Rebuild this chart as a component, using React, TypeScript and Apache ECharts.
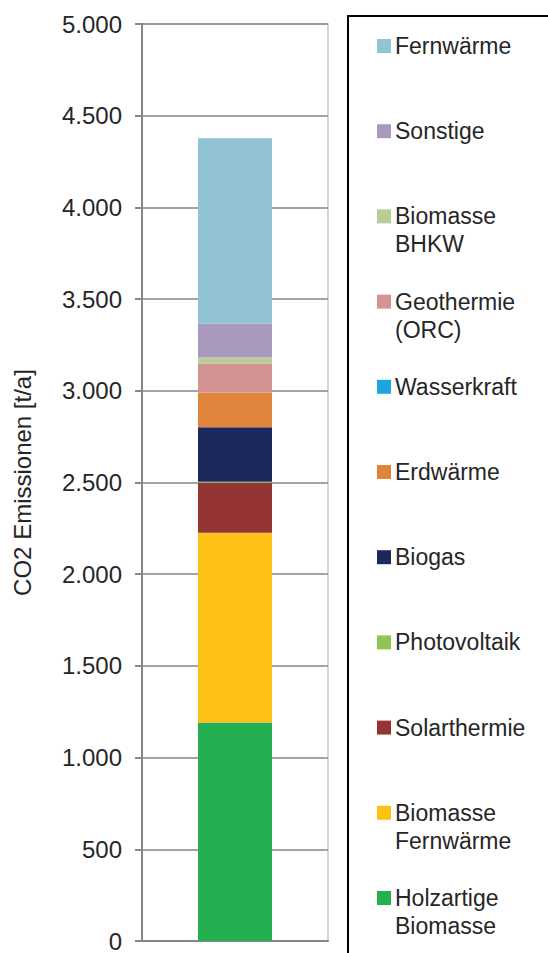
import React, { useEffect, useRef } from "react";
import * as echarts from "echarts";

const categories = ["CO2"];
const seriesNames = [
  "Holzartige Biomasse",
  "Biomasse Fernwärme",
  "Solarthermie",
  "Photovoltaik",
  "Biogas",
  "Erdwärme",
  "Wasserkraft",
  "Geothermie (ORC)",
  "Biomasse BHKW",
  "Sonstige",
  "Fernwärme",
];
const legendLabels = [
  "Holzartige\nBiomasse",
  "Biomasse\nFernwärme",
  "Solarthermie",
  "Photovoltaik",
  "Biogas",
  "Erdwärme",
  "Wasserkraft",
  "Geothermie\n(ORC)",
  "Biomasse\nBHKW",
  "Sonstige",
  "Fernwärme",
];
const values = [1192, 1034, 272, 6, 297, 190, 0, 158, 32, 185, 1011];
const colors = [
  "#24B051",
  "#FCC016",
  "#953533",
  "#8DC653",
  "#1C285C",
  "#DF843A",
  "#1EA5DE",
  "#D39392",
  "#B8CE96",
  "#A99ABD",
  "#92C3D4",
];
const yTicks = { min: 0, max: 5000, interval: 500 };

const FONT = "'Liberation Sans', Arial, sans-serif";

export default function App() {
  const ref = useRef<HTMLDivElement>(null);
  useEffect(() => {
    if (!ref.current) return;
    const chart = echarts.init(ref.current, undefined, { renderer: "svg" });
    const n = seriesNames.length;
    const legendItems: any[] = [];
    for (let i = 0; i < n; i++) {
      const idx = n - 1 - i; // top entry = Fernwärme
      const cy = 46 + i * 85.2;
      legendItems.push({
        type: "rect",
        shape: { x: 377, y: cy - 7, width: 14, height: 14 },
        style: { fill: colors[idx] },
      });
      legendItems.push({
        type: "text",
        x: 395,
        y: cy - 14,
        style: {
          text: legendLabels[idx],
          font: `23px ${FONT}`,
          fill: "#262626",
          verticalAlign: "top",
          lineHeight: 28,
        },
      });
    }
    chart.setOption({
      animation: false,
      backgroundColor: "#ffffff",
      grid: {
        left: 142,
        right: 220,
        top: 24,
        bottom: 7,
        show: true,
        borderColor: "#c8c8c8",
        borderWidth: 1.5,
      },
      xAxis: {
        type: "category",
        data: categories,
        axisLabel: { show: false },
        axisTick: { show: false },
        axisLine: { show: true, lineStyle: { color: "#868686", width: 2 } },
      },
      yAxis: {
        type: "value",
        min: yTicks.min,
        max: yTicks.max,
        interval: yTicks.interval,
        name: "CO2 Emissionen [t/a]",
        nameLocation: "middle",
        nameGap: 108,
        nameTextStyle: { fontFamily: FONT, fontSize: 24, color: "#262626" },
        axisLine: { show: true, lineStyle: { color: "#868686", width: 2 } },
        axisTick: { show: true, inside: false, length: 7, lineStyle: { color: "#868686", width: 2 } },
        axisLabel: {
          margin: 20,
          fontFamily: FONT,
          fontSize: 24,
          color: "#262626",
          formatter: (v: number) => String(v).replace(/\B(?=(\d{3})+(?!\d))/g, "."),
        },
        splitLine: { show: true, lineStyle: { color: "#868686", width: 1.5 } },
      },
      series: seriesNames.map((name, i) => ({
        name,
        type: "bar",
        stack: "total",
        barWidth: 74,
        data: [values[i]],
        itemStyle: { color: colors[i] },
      })),
      graphic: [
        {
          type: "rect",
          shape: { x: 348, y: 16, width: 300, height: 1000 },
          style: { fill: "none", stroke: "#000000", lineWidth: 2 },
        },
        ...legendItems,
      ],
    });
    return () => chart.dispose();
  }, []);
  return <div ref={ref} style={{ width: 548, height: 953, position: "absolute", left: 0, top: 0 }} />;
}
